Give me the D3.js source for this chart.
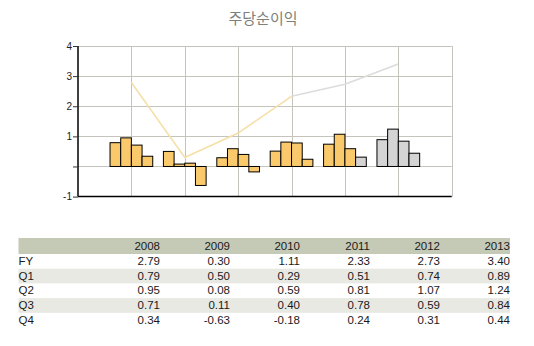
<!DOCTYPE html>
<html>
<head>
<meta charset="utf-8">
<script src="https://cdn.jsdelivr.net/npm/d3@7"></script>
<style>
  html, body { margin: 0; padding: 0; background: #fff; }
  svg { display: block; }
</style>
</head>
<body>
<svg id="chart" width="534" height="346"></svg>
<script>
// EPS by fiscal year and quarter
const years = ["2008", "2009", "2010", "2011", "2012", "2013"];
const fy = [2.79, 0.30, 1.11, 2.33, 2.73, 3.40];
const q1 = [0.79, 0.50, 0.29, 0.51, 0.74, 0.89];
const q2 = [0.95, 0.08, 0.59, 0.81, 1.07, 1.24];
const q3 = [0.71, 0.11, 0.40, 0.78, 0.59, 0.84];
const q4 = [0.34, -0.63, -0.18, 0.24, 0.31, 0.44];
const quarterNames = ["Q1", "Q2", "Q3", "Q4"];
// first quarter that is an estimate (year index, quarter index)
const estimateStart = { year: 4, quarter: 3 };
const yTicks = [4, 3, 2, 1, 0, -1];
const title = "주당순이익";

const svg = d3.select("#chart");
const font = "'Liberation Sans', Arial, sans-serif";
const fmt2 = d => d3.format(".2f")(d).replace("\u2212", "-");
const fmt0 = d => d3.format("d")(d).replace("\u2212", "-");

const x = d3.scaleLinear().domain([0, 7]).range([78, 451.7]);
const y = d3.scaleLinear().domain([-1, 4]).range([196.6, 46]);

const isEstimate = (yi, qi) =>
  yi > estimateStart.year || (yi === estimateStart.year && qi >= estimateStart.quarter);

// title
svg.append("text")
  .attr("x", 263).attr("y", 24)
  .attr("text-anchor", "middle")
  .attr("font-family", "'Noto Sans CJK KR', sans-serif")
  .attr("font-size", 15)
  .attr("fill", "#7d7f7a")
  .text(title);

// grid
const grid = svg.append("g");
grid.selectAll("line.h").data(yTicks.filter(d => d > -1)).join("line")
  .attr("x1", x(0)).attr("x2", x(7))
  .attr("y1", d => Math.round(y(d)) + 0.5).attr("y2", d => Math.round(y(d)) + 0.5)
  .attr("stroke", "#c4c4bc").attr("stroke-width", 1);
grid.selectAll("line.v").data(d3.range(1, 8)).join("line")
  .attr("x1", d => Math.round(x(d)) + 0.5).attr("x2", d => Math.round(x(d)) + 0.5)
  .attr("y1", y(4)).attr("y2", y(-1))
  .attr("stroke", "#c4c4bc").attr("stroke-width", 1);

// FY line
const pts = years.map((yr, i) => ({ i, v: fy[i] }));
const line = d3.line().x(d => x(d.i + 1)).y(d => y(d.v));
for (let i = 0; i < pts.length - 1; i++) {
  const est = isEstimate(i + 1, 3);
  svg.append("path")
    .attr("d", line([pts[i], pts[i + 1]]))
    .attr("fill", "none")
    .attr("stroke", est ? "#dcdcdc" : "#f6dfa6")
    .attr("stroke-width", 1.5);
}

// quarterly bars
const quarters = [q1, q2, q3, q4];
const bars = [];
years.forEach((yr, yi) => {
  quarters.forEach((arr, qi) => bars.push({ yi, qi, v: arr[yi] }));
});
const bw = 0.2;
svg.append("g").selectAll("rect").data(bars).join("rect")
  .attr("x", d => x(d.yi + 1 - 0.4 + d.qi * bw))
  .attr("width", x(bw) - x(0))
  .attr("y", d => y(Math.max(0, d.v)))
  .attr("height", d => Math.abs(y(d.v) - y(0)))
  .attr("fill", d => isEstimate(d.yi, d.qi) ? "#d4d4d4" : "#f9c96b")
  .attr("stroke", "#000")
  .attr("stroke-width", 1);

// axes
const yAxis = d3.axisLeft(y).tickValues(yTicks).tickSize(5)
  .tickFormat(d => d === 0 ? "" : fmt0(d));
const ya = svg.append("g").attr("transform", `translate(${x(0)},0)`).call(yAxis);
ya.select(".domain").attr("stroke", "#000").attr("stroke-width", 1.5).attr("d", `M0,${y(4)}V${y(-1)}`);
ya.selectAll(".tick line").attr("stroke", "#333");
ya.selectAll(".tick text").attr("font-family", font).attr("font-size", 10).attr("fill", "#222").attr("x", -6);

svg.append("line")
  .attr("x1", x(0)).attr("x2", x(7))
  .attr("y1", y(-1)).attr("y2", y(-1))
  .attr("stroke", "#000").attr("stroke-width", 1.5);

// data table
const tbl = svg.append("g");
const left = 18.5, right = 510;
const colRight = d3.scaleLinear().domain([0, 5]).range([160, 510]);
const headTop = 238, headH = 16, rowH = 14.7;
tbl.append("rect").attr("x", left).attr("y", headTop).attr("width", right - left).attr("height", headH)
  .attr("fill", "#c5cab7");
tbl.selectAll("text.h").data(years).join("text")
  .attr("x", (d, i) => colRight(i)).attr("y", headTop + 12)
  .attr("text-anchor", "end").attr("font-family", font).attr("font-size", 11.5).attr("fill", "#1a1a1a")
  .text(d => d);

const rows = [{ name: "FY", vals: fy }].concat(quarters.map((arr, qi) => ({ name: quarterNames[qi], vals: arr })));
rows.forEach((r, ri) => {
  const top = headTop + headH + ri * rowH;
  if (ri % 2 === 1) {
    tbl.append("rect").attr("x", left).attr("y", top).attr("width", right - left).attr("height", rowH)
      .attr("fill", "#e8e9e3");
  }
  tbl.append("text").attr("x", left).attr("y", top + 11)
    .attr("font-family", font).attr("font-size", 11.5).attr("fill", "#1a1a1a").text(r.name);
  tbl.selectAll(null).data(r.vals).join("text")
    .attr("x", (d, i) => colRight(i)).attr("y", top + 11)
    .attr("text-anchor", "end").attr("font-family", font).attr("font-size", 11.5).attr("fill", "#1a1a1a")
    .text(d => fmt2(d));
});
</script>
</body>
</html>
